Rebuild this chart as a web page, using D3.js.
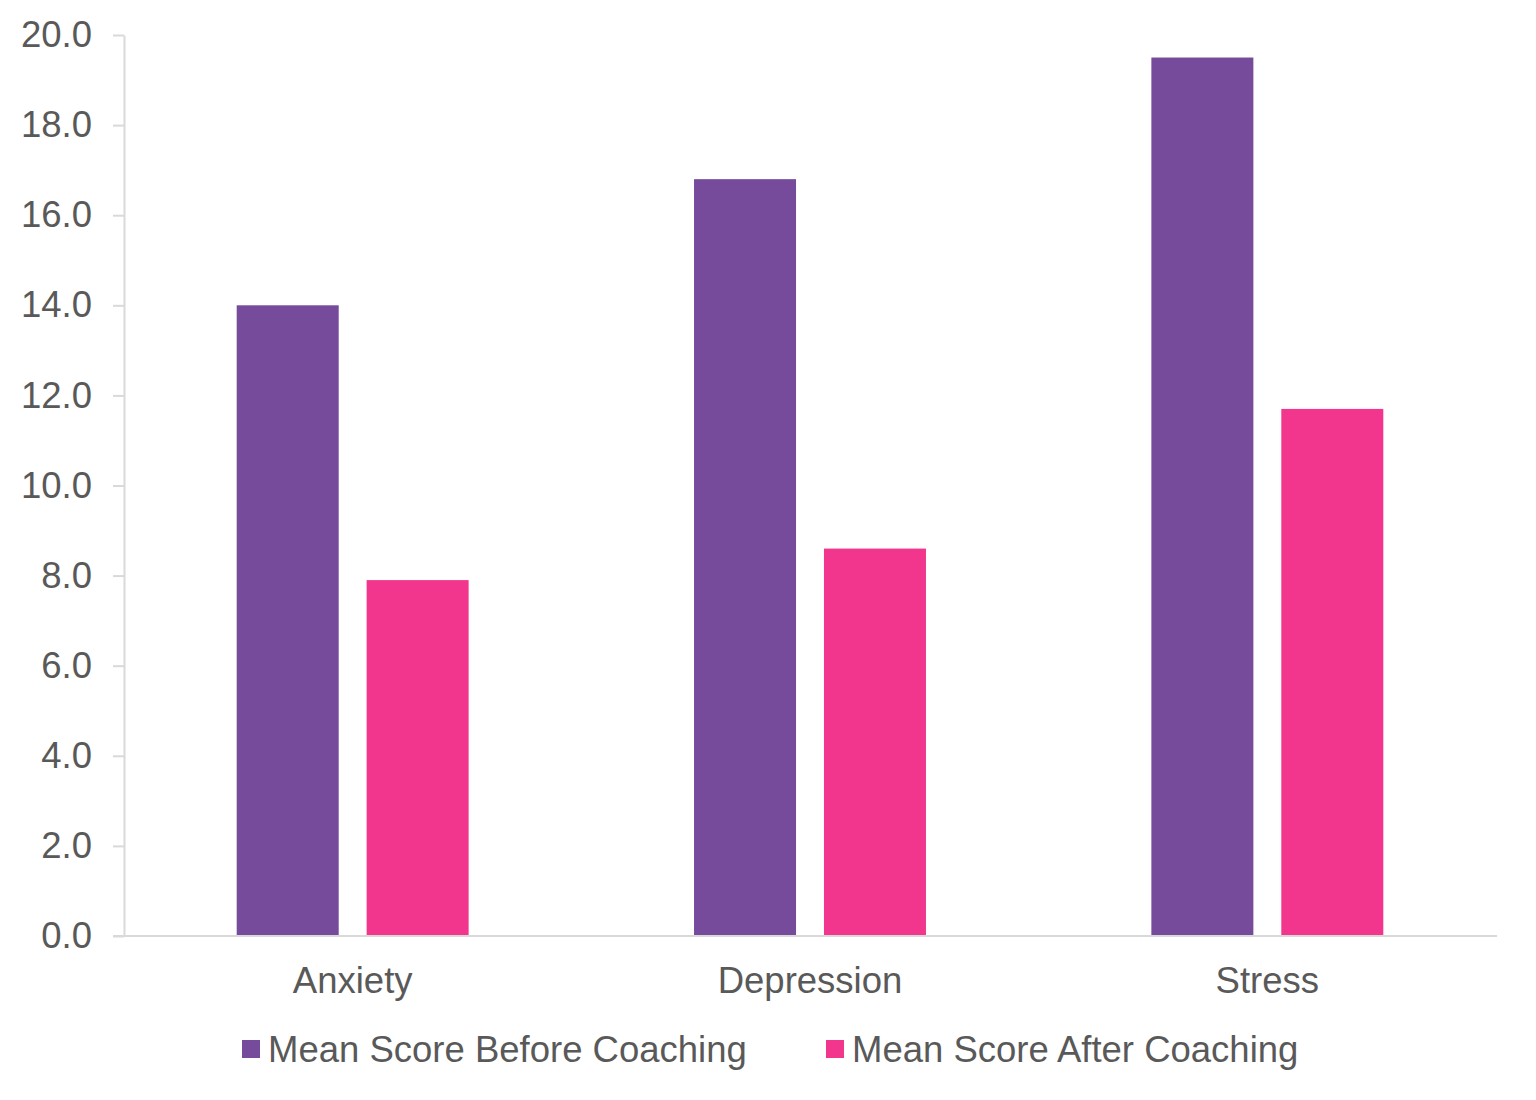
<!DOCTYPE html>
<html>
<head>
<meta charset="utf-8">
<script src="https://cdn.jsdelivr.net/npm/d3@7"></script>
<style>
    body { margin: 0; background: #fff; }
    svg { display: block; font-family: "Liberation Sans", Arial, sans-serif; }
</style>
</head>
<body>
<div id="chart-container"></div>
<script>
const categories = ["Anxiety", "Depression", "Stress"];
const seriesNames = ["Mean Score Before Coaching", "Mean Score After Coaching"];
const beforeValues = [14.0, 16.8, 19.5];
const afterValues = [7.9, 8.6, 11.7];
const yTicks = [0, 2, 4, 6, 8, 10, 12, 14, 16, 18, 20];
const colors = ["#764b9b", "#f2368d"];

const width = 1536;
const height = 1100;
const margin = ({top: 35, right: 40, bottom: 164, left: 124});
const fontSize = 36.5;

const data = categories.map((c, i) => ({ name: c, values: [beforeValues[i], afterValues[i]] }));

const svg = d3.select("#chart-container")
    .append("svg")
    .attr("width", width)
    .attr("height", height);

const x = d3.scaleBand()
    .domain(categories)
    .range([margin.left, width - margin.right])
    .padding(0);

// inner band for the two series within each category
const innerPad = 112.7;
const xSeries = d3.scaleBand()
    .domain(seriesNames)
    .range([innerPad, x.bandwidth() - innerPad])
    .paddingInner(0.215);

const y = d3.scaleLinear()
    .domain([0, 20])
    .range([height - margin.bottom, margin.top]);

// y axis
const yAxis = svg.append("g")
    .attr("transform", `translate(${margin.left},0)`)
    .call(d3.axisLeft(y).tickValues(yTicks).tickFormat(d3.format(".1f")).tickSize(11).tickSizeOuter(0).tickPadding(21));
yAxis.select(".domain").attr("stroke", "#d9d9d9").attr("stroke-width", 2);
yAxis.selectAll(".tick line").attr("stroke", "#d9d9d9").attr("stroke-width", 2);
yAxis.selectAll(".tick text").attr("fill", "#595959").attr("font-size", fontSize);

// bars
const groups = svg.append("g")
    .selectAll("g")
    .data(data)
    .join("g")
    .attr("transform", d => `translate(${x(d.name)},0)`);

groups.selectAll("rect")
    .data(d => d.values.map((v, i) => ({ key: seriesNames[i], value: v, i })))
    .join("rect")
    .attr("x", d => xSeries(d.key))
    .attr("y", d => y(d.value))
    .attr("width", xSeries.bandwidth())
    .attr("height", d => y(0) - y(d.value))
    .attr("fill", d => colors[d.i]);

// x axis
const xAxis = svg.append("g")
    .attr("transform", `translate(0,${y(0)})`)
    .call(d3.axisBottom(x).tickSize(0).tickSizeOuter(0).tickPadding(31));
xAxis.select(".domain")
    .attr("d", `M${margin.left - 11},0H${width - margin.right + 1}`)
    .attr("stroke", "#d9d9d9").attr("stroke-width", 2);
xAxis.selectAll(".tick text").attr("fill", "#595959").attr("font-size", fontSize).attr("dy", "0.71em");

// legend
const legendItems = [
    { name: seriesNames[0], color: colors[0], x: 242 },
    { name: seriesNames[1], color: colors[1], x: 826 }
];
const legend = svg.append("g")
    .selectAll("g")
    .data(legendItems)
    .join("g")
    .attr("transform", d => `translate(${d.x},1049)`);

legend.append("rect")
    .attr("x", 0)
    .attr("y", -9)
    .attr("width", 18)
    .attr("height", 18)
    .attr("fill", d => d.color);

legend.append("text")
    .attr("x", 26)
    .attr("y", 0)
    .attr("dy", "0.35em")
    .attr("fill", "#595959")
    .attr("font-size", fontSize)
    .text(d => d.name);
</script>
</body>
</html>
